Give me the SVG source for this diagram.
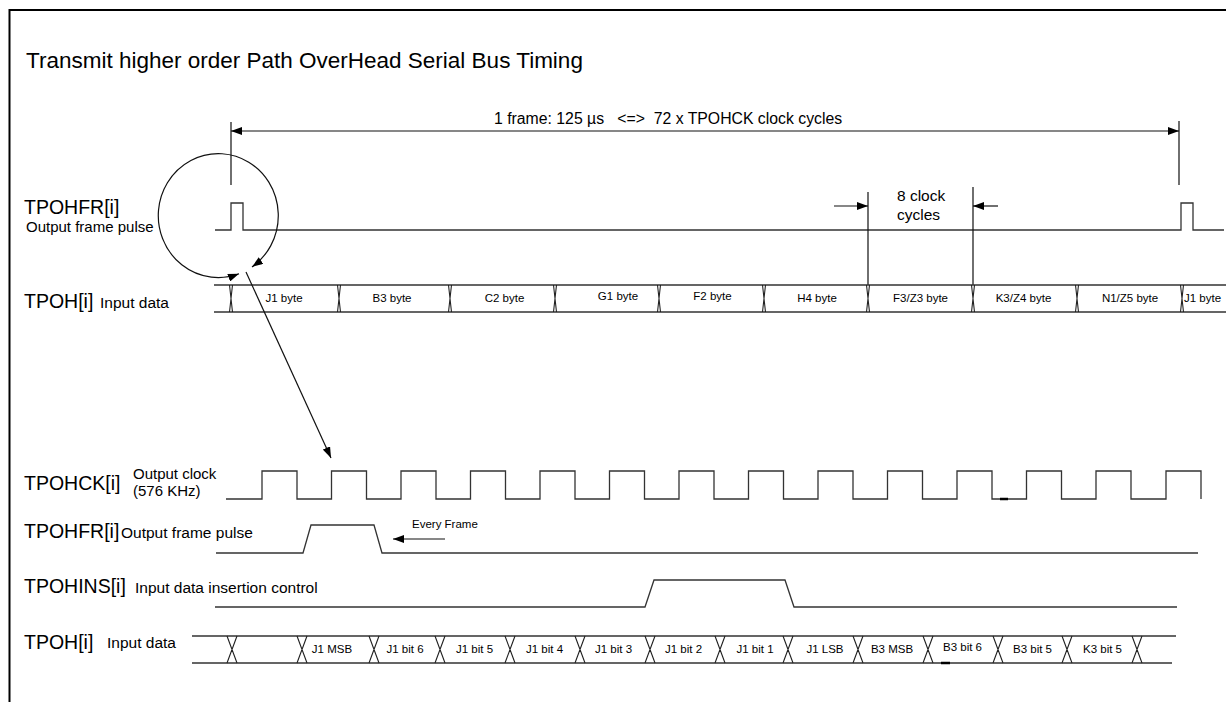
<svg xmlns="http://www.w3.org/2000/svg" width="1226" height="702" viewBox="0 0 1226 702">
<defs>
<marker id="ah" markerUnits="userSpaceOnUse" viewBox="0 0 11 8" markerWidth="11" markerHeight="8" refX="11" refY="4" orient="auto-start-reverse">
<path d="M0,0 L11,4 L0,8 Z" fill="#000"/>
</marker>
</defs>
<style>
text{font-family:"Liberation Sans",Arial,sans-serif;fill:#000}
.title{font-size:22.5px}
.big{font-size:19.5px}
.mid{font-size:15.5px}
.lab{font-size:15px}
.sm{font-size:11.5px}
.w{fill:none;stroke:#333;stroke-width:1.3}
.ln{fill:none;stroke:#111;stroke-width:1.2}
.x{fill:none;stroke:#222;stroke-width:1.1}
</style>
<rect width="1226" height="702" fill="#fff"/>
<g id="border">
<path d="M9.5,702 V10 H1226" fill="none" stroke="#000" stroke-width="2"/>
</g>
<g id="title">
<text class="title" x="26" y="68">Transmit higher order Path OverHead Serial Bus Timing</text>
</g>
<g id="frame-span">
<path class="ln" d="M231,122 V185 M1179,121 V185"/>
<text class="mid" x="494" y="124" style="font-size:15.8px" xml:space="preserve">1 frame: 125 µs   &lt;=&gt;  72 x TPOHCK clock cycles</text>
</g>
<g id="top-tpohfr">
<text class="big" x="24" y="214">TPOHFR[i]</text>
<text class="lab" x="26" y="232">Output frame pulse</text>
<path class="w" d="M215,230 H231 V203 H243 V230 H1181 V203 H1193 V230 H1224"/>
</g>
<g id="eight-clock">
<path class="ln" d="M868,192 V285 M973,187 V285"/>
<text class="mid" x="897" y="201">8 clock</text>
<text class="mid" x="897" y="220">cycles</text>
</g>
<g id="top-tpoh">
<text class="big" x="24" y="308">TPOH[i]</text>
<text class="mid" x="100" y="308">Input data</text>
<path class="w" d="M214,285 H1226 M214,312 H1226"/>
<path class="x" d="M229.5,285 L231,298.5 L229.5,312 M232.5,285 L231,298.5 L232.5,312
M337.5,285 L339,298.5 L337.5,312 M340.5,285 L339,298.5 L340.5,312
M448.5,285 L450,298.5 L448.5,312 M451.5,285 L450,298.5 L451.5,312
M553.5,285 L555,298.5 L553.5,312 M556.5,285 L555,298.5 L556.5,312
M657.5,285 L659,298.5 L657.5,312 M660.5,285 L659,298.5 L660.5,312
M762.5,285 L764,298.5 L762.5,312 M765.5,285 L764,298.5 L765.5,312
M866.5,285 L868,298.5 L866.5,312 M869.5,285 L868,298.5 L869.5,312
M971.5,285 L973,298.5 L971.5,312 M974.5,285 L973,298.5 L974.5,312
M1075.5,285 L1077,298.5 L1075.5,312 M1078.5,285 L1077,298.5 L1078.5,312
M1180.5,285 L1182,298.5 L1180.5,312 M1183.5,285 L1182,298.5 L1183.5,312"/>
<g class="sm" text-anchor="middle">
<text x="284" y="302">J1 byte</text>
<text x="392" y="302">B3 byte</text>
<text x="504.5" y="302">C2 byte</text>
<text x="618" y="300">G1 byte</text>
<text x="712.5" y="300">F2 byte</text>
<text x="817" y="302">H4 byte</text>
<text x="920.5" y="302">F3/Z3 byte</text>
<text x="1023.5" y="302">K3/Z4 byte</text>
<text x="1130" y="302">N1/Z5 byte</text>
<text x="1202.5" y="302">J1 byte</text>
</g>
</g>
<g id="tpohck">
<text class="big" x="24" y="490">TPOHCK[i]</text>
<text class="lab" x="133" y="479">Output clock</text>
<text class="lab" x="133" y="496">(576 KHz)</text>
<path class="w" d="M226,499 H262 V471 H297 V499 H331.5 V471 H366.5 V499 H401 V471 H436 V499 H470.5 V471 H505.5 V499 H540 V471 H575 V499 H609.5 V471 H644.5 V499 H679 V471 H714 V499 H748.5 V471 H783.5 V499 H818 V471 H853 V499 H887.5 V471 H922.5 V499 H957 V471 H992 V499 H1026.5 V471 H1061.5 V499 H1096 V471 H1131 V499 H1166 V471 H1201 V499"/>
<path d="M1000,499 H1008" stroke="#000" stroke-width="2.5"/>
</g>
<g id="bottom-tpohfr">
<text class="big" x="24" y="538">TPOHFR[i]</text>
<text class="mid" x="121" y="538">Output frame pulse</text>
<path class="w" d="M216,553 H303 L311,525 H374 L382,553 H1198"/>
<text class="sm" x="412" y="528">Every Frame</text>
</g>
<g id="tpohins">
<text class="big" x="24" y="593">TPOHINS[i]</text>
<text class="mid" x="135" y="593">Input data insertion control</text>
<path class="w" d="M215,607 H645 L654,580 H785 L794,607 H1177"/>
</g>
<g id="bottom-tpoh">
<text class="big" x="24" y="649">TPOH[i]</text>
<text class="mid" x="107" y="648">Input data</text>
<path class="w" d="M192,636 H1176 M192,663 H1172"/>
<path class="x" d="M227,636 L237,663 M237,636 L227,663
M297,636 L307,663 M307,636 L297,663
M369,636 L379,663 M379,636 L369,663
M435,636 L445,663 M445,636 L435,663
M505,636 L515,663 M515,636 L505,663
M575,636 L585,663 M585,636 L575,663
M645,636 L655,663 M655,636 L645,663
M715,636 L725,663 M725,636 L715,663
M783,636 L793,663 M793,636 L783,663
M853,636 L863,663 M863,636 L853,663
M923,636 L933,663 M933,636 L923,663
M993,636 L1003,663 M1003,636 L993,663
M1062,636 L1072,663 M1072,636 L1062,663
M1132,636 L1142,663 M1142,636 L1132,663"/>
<path d="M941,663 H950" stroke="#000" stroke-width="2.5"/>
<g class="sm" text-anchor="middle">
<text x="332" y="653">J1 MSB</text>
<text x="405" y="653">J1 bit 6</text>
<text x="474.5" y="653">J1 bit 5</text>
<text x="544.5" y="653">J1 bit 4</text>
<text x="613.5" y="653">J1 bit 3</text>
<text x="683.5" y="653">J1 bit 2</text>
<text x="755" y="653">J1 bit 1</text>
<text x="825" y="653">J1 LSB</text>
<text x="892" y="653">B3 MSB</text>
<text x="962.5" y="651">B3 bit 6</text>
<text x="1032.5" y="653">B3 bit 5</text>
<text x="1102.5" y="653">K3 bit 5</text>
</g>
</g>
<g id="connectors">
<path class="ln" d="M231,131 H1179" marker-start="url(#ah)" marker-end="url(#ah)"/>
<path class="ln" d="M834,206 H868" marker-end="url(#ah)"/>
<path class="ln" d="M998,206 H973" marker-end="url(#ah)"/>
<path class="ln" d="M239,273.8 A60,62 0 1 1 252,266.9" marker-start="url(#ah)" marker-end="url(#ah)"/>
<path class="ln" d="M246,272 L331,458" marker-end="url(#ah)"/>
<path class="ln" d="M445,539 H393" marker-end="url(#ah)"/>
</g>
</svg>
